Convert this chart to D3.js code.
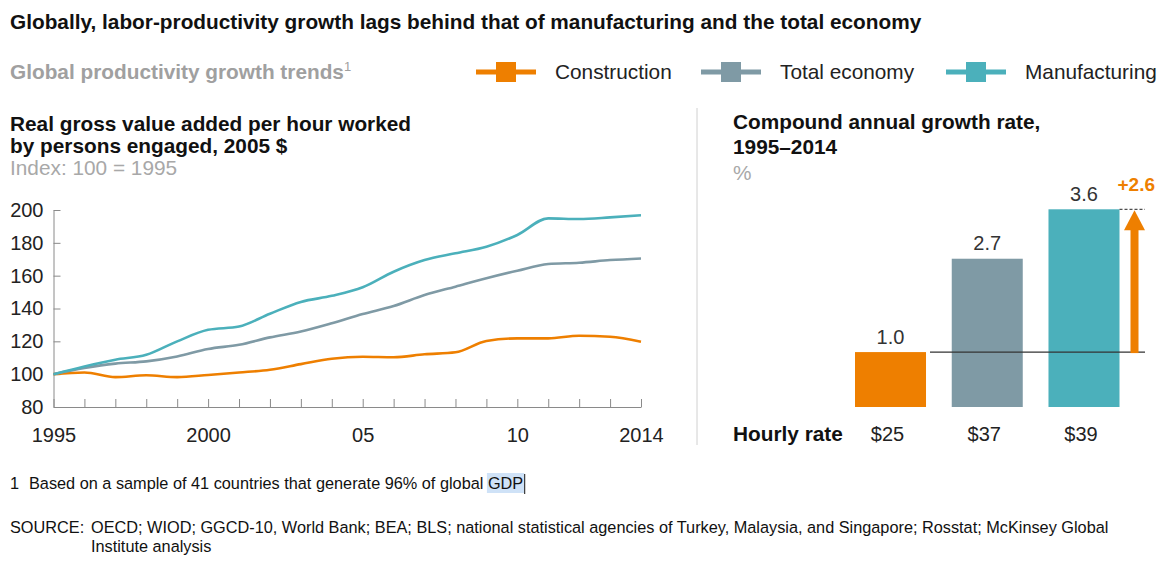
<!DOCTYPE html>
<html>
<head>
<meta charset="utf-8">
<script src="https://cdn.jsdelivr.net/npm/d3@7"></script>
<style>
  body { margin: 0; background: #fff; }
  svg text { font-family: "Liberation Sans", Arial, sans-serif; }
</style>
</head>
<body>
<div id="chart"></div>
<script>
// ---- data ----
const years = [1995, 1996, 1997, 1998, 1999, 2000, 2001, 2002, 2003, 2004, 2005, 2006, 2007, 2008, 2009, 2010, 2011, 2012, 2013, 2014]
const construction = [100, 101, 98.2, 99.3, 98.2, 99.5, 101, 102.7, 106.1, 109.4, 110.6, 110.3, 112.1, 113.3, 120.2, 121.8, 121.8, 123.4, 122.8, 119.8]
const totalEconomy = [100, 103.7, 106.4, 107.8, 110.8, 115.3, 117.9, 122.4, 126, 131, 136.6, 141.5, 148.2, 153.3, 158.4, 163, 167.1, 167.9, 169.5, 170.5]
const manufacturing = [100, 104.7, 108.8, 111.8, 120, 127, 129, 136.8, 144, 147.7, 152.9, 162.4, 169.5, 173.6, 177.6, 184.8, 194.9, 194.5, 195.5, 196.8]

const yTicks = [80, 100, 120, 140, 160, 180, 200]
const xLabels = { 1995: '1995', 2000: '2000', 2005: '05', 2010: '10', 2014: '2014' }

const sectors = ['Construction', 'Total economy', 'Manufacturing']
const cagr = [1.0, 2.7, 3.6]
const hourlyRate = ['$25', '$37', '$39']
const gapLabel = '+2.6'

const colors = { 'Construction': '#ee7f00', 'Total economy': '#7f9aa5', 'Manufacturing': '#4bb0bb' }

const W = 1162, H = 581
const HEAD = '20.8px'
const svg = d3.select('#chart').append('svg').attr('width', W).attr('height', H)

// ---- titles ----
svg.append('text').attr('x', 10).attr('y', 29)
    .style('font-size', HEAD).style('font-weight', 'bold').style('fill', '#111')
    .text('Globally, labor-productivity growth lags behind that of manufacturing and the total economy')

const sub = svg.append('text').attr('x', 10).attr('y', 79)
    .style('font-size', HEAD).style('font-weight', 'bold').style('fill', '#a0a0a0')
sub.append('tspan').text('Global productivity growth trends')
sub.append('tspan').attr('dy', -8).style('font-size', '13px').style('font-weight', 'normal').text('1')

// legend
const legendX = [476, 701, 946]
sectors.forEach((s, i) => {
    const g = svg.append('g').attr('transform', `translate(${legendX[i]}, 72)`)
    g.append('line').attr('x1', 0).attr('x2', 60).attr('y1', 0).attr('y2', 0)
        .style('stroke', colors[s]).style('stroke-width', 5)
    g.append('rect').attr('x', 20).attr('y', -10).attr('width', 20).attr('height', 20).style('fill', colors[s])
    g.append('text').attr('x', 79).attr('y', 7).style('font-size', '20.8px').style('fill', '#222').text(s)
})

// left headings
svg.append('text').attr('x', 10).attr('y', 131).style('font-size', HEAD).style('font-weight', 'bold').style('fill', '#111')
    .text('Real gross value added per hour worked')
svg.append('text').attr('x', 10).attr('y', 153).style('font-size', HEAD).style('font-weight', 'bold').style('fill', '#111')
    .text('by persons engaged, 2005 $')
svg.append('text').attr('x', 10).attr('y', 175).style('font-size', HEAD).style('fill', '#a8a8a8')
    .text('Index: 100 = 1995')

// right headings
svg.append('text').attr('x', 733).attr('y', 129).style('font-size', HEAD).style('font-weight', 'bold').style('fill', '#111')
    .text('Compound annual growth rate,')
svg.append('text').attr('x', 733).attr('y', 154).style('font-size', HEAD).style('font-weight', 'bold').style('fill', '#111')
    .text('1995–2014')
svg.append('text').attr('x', 733).attr('y', 180).style('font-size', HEAD).style('fill', '#a8a8a8')
    .text('%')

// separator
svg.append('line').attr('x1', 697).attr('x2', 697).attr('y1', 108).attr('y2', 445)
    .style('stroke', '#d0d0d0').style('stroke-width', 1)

// ---- left line chart ----
const x = d3.scaleLinear().domain([1995, 2014]).range([53.5, 641])
const y = d3.scaleLinear().domain([80, 200]).range([407, 210])

const yAxis = svg.append('g').attr('transform', 'translate(53.5,0)')
    .call(d3.axisLeft(y).tickValues(yTicks).tickSizeInner(-7).tickSizeOuter(0).tickPadding(10))
const xAxis = svg.append('g').attr('transform', 'translate(0,407)')
    .call(d3.axisBottom(x).tickValues(years).tickSizeInner(-8).tickSizeOuter(0).tickPadding(21)
        .tickFormat(d => xLabels[d] || ''))
;[yAxis, xAxis].forEach(a => {
    a.select('.domain').style('stroke', '#8a8a8a')
    a.selectAll('.tick line').style('stroke', '#8a8a8a')
    a.selectAll('.tick text').style('font-size', '20px').style('fill', '#222')
        .style('font-family', '"Liberation Sans", Arial, sans-serif')
})

const line = d3.line().x((d, i) => x(years[i])).y(d => y(d)).curve(d3.curveMonotoneX)
const series = [['Construction', construction], ['Total economy', totalEconomy], ['Manufacturing', manufacturing]]
series.forEach(([name, vals]) => {
    svg.append('path').datum(vals).attr('d', line)
        .style('fill', 'none').style('stroke', colors[name]).style('stroke-width', 2.6)
        .style('stroke-linejoin', 'round')
})

// ---- right bar chart ----
const xb = d3.scaleBand().domain(sectors).range([855, 1119.5]).paddingInner(0.266).paddingOuter(0)
const yb = d3.scaleLinear().domain([0, 3.6]).range([407, 209.3])

svg.selectAll('.bar').data(sectors).join('rect').attr('class', 'bar')
    .attr('x', d => xb(d)).attr('y', (d, i) => yb(cagr[i]))
    .attr('width', xb.bandwidth()).attr('height', (d, i) => yb(0) - yb(cagr[i]))
    .style('fill', d => colors[d])

svg.selectAll('.val').data(sectors).join('text').attr('class', 'val')
    .attr('x', d => xb(d) + xb.bandwidth() / 2).attr('y', (d, i) => yb(cagr[i]) - 8.5)
    .attr('text-anchor', 'middle').style('font-size', '20px').style('fill', '#333')
    .text((d, i) => cagr[i].toFixed(1))

// reference line at construction level
const yBase = yb(cagr[0])
svg.append('line').attr('x1', 930).attr('x2', 1145).attr('y1', yBase).attr('y2', yBase)
    .style('stroke', '#333').style('stroke-width', 1.2)
// dashed top marker
const yTop = yb(cagr[2])
svg.append('line').attr('x1', xb('Manufacturing') + xb.bandwidth()).attr('x2', 1145).attr('y1', yTop).attr('y2', yTop)
    .style('stroke', '#222').style('stroke-width', 1).style('stroke-dasharray', '3,2')

// arrow
const ax = 1134.5
svg.append('rect').attr('x', ax - 4).attr('y', yTop + 20).attr('width', 8).attr('height', yBase - yTop - 19)
    .style('fill', colors['Construction'])
svg.append('path').attr('d', `M${ax - 10.5},${yTop + 21}L${ax + 10.5},${yTop + 21}L${ax},${yTop + 1}Z`)
    .style('fill', colors['Construction'])
svg.append('text').attr('x', 1155).attr('y', 191).attr('text-anchor', 'end')
    .style('font-size', '19px').style('font-weight', 'bold').style('fill', colors['Construction']).text(gapLabel)

// hourly rate row
svg.append('text').attr('x', 733).attr('y', 441).style('font-size', HEAD).style('font-weight', 'bold').style('fill', '#111')
    .text('Hourly rate')
svg.selectAll('.rate').data(sectors).join('text').attr('class', 'rate')
    .attr('x', d => xb(d) + xb.bandwidth() / 2 - 3).attr('y', 441)
    .attr('text-anchor', 'middle').style('font-size', '20px').style('fill', '#222')
    .text((d, i) => hourlyRate[i])

// ---- footnotes ----
const FOOT = '16.3px'
const hl = svg.append('rect').style('fill', '#cfe2f7')
const fn = svg.append('text').attr('x', 10).attr('y', 489).style('font-size', FOOT).style('fill', '#111')
fn.append('tspan').text('1')
fn.append('tspan').attr('x', 29).text('Based on a sample of 41 countries that generate 96% of global ')
const gdp = fn.append('tspan').text('GDP')
const bb = gdp.node().getBBox()
hl.attr('x', bb.x - 1).attr('y', bb.y - 1).attr('width', bb.width + 2).attr('height', bb.height + 2)
svg.append('line').attr('x1', bb.x + bb.width + 1.5).attr('x2', bb.x + bb.width + 1.5)
    .attr('y1', bb.y).attr('y2', bb.y + bb.height + 2).style('stroke', '#111').style('stroke-width', 1)

const src = svg.append('text').attr('y', 533).style('font-size', FOOT).style('fill', '#111')
src.append('tspan').attr('x', 10).text('SOURCE:')
src.append('tspan').attr('x', 91).text('OECD; WIOD; GGCD-10, World Bank; BEA; BLS; national statistical agencies of Turkey, Malaysia, and Singapore; Rosstat; McKinsey Global')
svg.append('text').attr('x', 91).attr('y', 552).style('font-size', FOOT).style('fill', '#111')
    .text('Institute analysis')
</script>
</body>
</html>
